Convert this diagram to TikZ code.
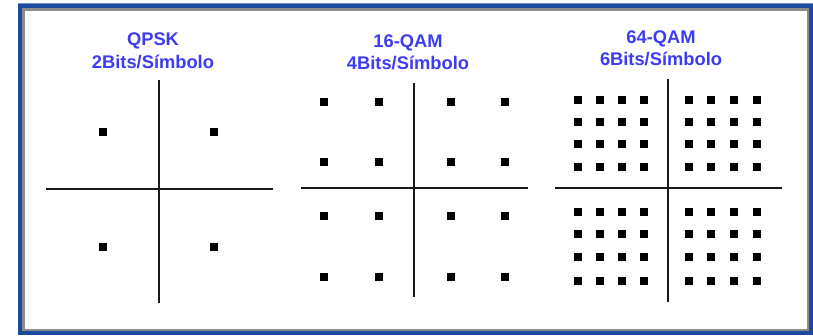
\documentclass[tikz,border=0pt]{standalone}
\usepackage{fontspec}
\setmainfont{Liberation Sans}
\definecolor{frameblue}{RGB}{28,74,158}
\definecolor{titleblue}{RGB}{60,60,245}
\definecolor{edgegray}{RGB}{140,140,140}
\definecolor{axisblack}{RGB}{25,25,25}
\begin{document}
\begin{tikzpicture}[x=1pt,y=-1pt,
  dot/.style={rectangle,fill=black,minimum size=8.5pt,inner sep=0pt},
  axisline/.style={line width=2.9pt,color=axisblack},
  title/.style={anchor=base,text=titleblue,inner sep=0pt,font=\fontsize{18.3}{20}\selectfont\bfseries}]
\useasboundingbox (0,0) rectangle (813,335);
% frame
\fill[frameblue] (18,3) rectangle (813,335);
\fill[frameblue!60!white] (18,3) rectangle (813,4.2);
\fill[edgegray] (22,8) rectangle (808.5,331);
\fill[white] (25,11) rectangle (806.5,329);
% titles
\node[title] (t1a) at (153,45) {QPSK};
\node[title] (t1b) at (153,68) {2Bits/Símbolo};
\node[title] (t2a) at (408,47) {16-QAM};
\node[title] (t2b) at (408,69) {4Bits/Símbolo};
\node[title] (t3a) at (661,43) {64-QAM};
\node[title] (t3b) at (661,65) {6Bits/Símbolo};
% QPSK axes
\coordinate (q-top) at (159,80);
\coordinate (q-bot) at (159,303);
\coordinate (q-left) at (46,189);
\coordinate (q-right) at (273,189);
\draw[axisline] (q-top) -- (q-bot);
\draw[axisline] (q-left) -- (q-right);
\node[dot] (qd1) at (103,132) {};
\node[dot] (qd2) at (214,132) {};
\node[dot] (qd3) at (103,247) {};
\node[dot] (qd4) at (214,247) {};
% 16-QAM axes
\coordinate (m-top) at (414,83);
\coordinate (m-bot) at (414,297);
\coordinate (m-left) at (301,188);
\coordinate (m-right) at (528,188);
\draw[axisline] (m-top) -- (m-bot);
\draw[axisline] (m-left) -- (m-right);
\foreach \x [count=\i] in {324,379,451,505}
  \foreach \y [count=\j] in {102,162,216,277}
    \node[dot] (md\i\j) at (\x,\y) {};
% 64-QAM axes
\coordinate (s-top) at (668,79);
\coordinate (s-bot) at (668,302);
\coordinate (s-left) at (555,188);
\coordinate (s-right) at (782,188);
\draw[axisline] (s-top) -- (s-bot);
\draw[axisline] (s-left) -- (s-right);
\foreach \x [count=\i] in {578,600,622,644,689,711,734,757}
  \foreach \y [count=\j] in {100,122,144,167,212,234,257,281}
    \node[dot] (sd\i\j) at (\x,\y) {};
\end{tikzpicture}
\end{document}
